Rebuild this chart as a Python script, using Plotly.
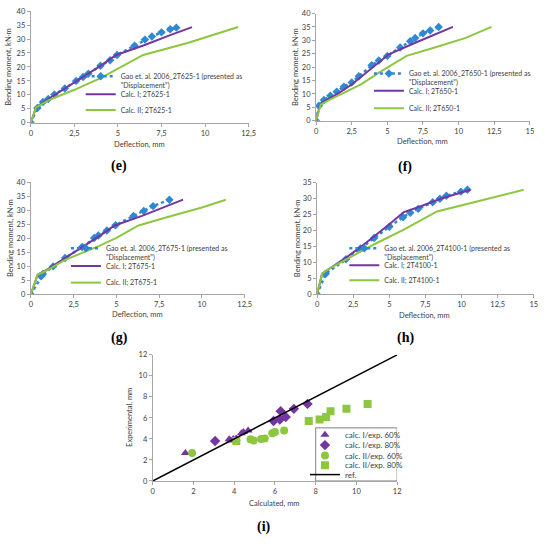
import plotly.graph_objs as go

# (e) 2T625-1
gao_e_x = [0, 0.38, 0.7, 1.0, 1.35, 1.95, 2.6, 3.0, 3.3, 4.0, 4.55, 4.95, 5.95, 6.55, 6.95, 7.5, 8.0, 8.35]
gao_e_y = [0, 5.3, 7.4, 8.5, 10.1, 12.3, 15.0, 16.4, 17.6, 20.4, 22.4, 24.3, 27.6, 29.8, 30.9, 32.4, 33.5, 34.1]
calc1_e_x = [0, 0.3, 1.0, 2.0, 3.0, 4.0, 4.9, 6.5, 8.0, 9.25]
calc1_e_y = [0, 5.5, 8.5, 12.4, 16.4, 20.4, 24.3, 27.8, 31.4, 34.3]
calc2_e_x = [0, 0.3, 1.0, 2.5, 4.0, 5.0, 6.45, 9.0, 11.9]
calc2_e_y = [0, 5.5, 8.0, 11.8, 16.0, 19.5, 24.3, 28.6, 34.3]

# (f) 2T650-1
gao_f_x = [0, 0.2, 0.55, 1.0, 1.45, 1.95, 2.5, 3.0, 3.9, 4.4, 5.0, 5.9, 6.6, 6.95, 7.5, 8.0, 8.6]
gao_f_y = [0, 5.6, 7.7, 9.3, 10.8, 12.7, 14.3, 16.6, 20.7, 22.5, 24.2, 27.3, 29.7, 30.9, 32.6, 33.7, 35.0]
calc1_f_x = [0, 0.28, 0.6, 1.5, 2.5, 3.5, 4.5, 5.1, 7.0, 9.6]
calc1_f_y = [0, 5.9, 7.3, 10.0, 13.5, 17.8, 22.3, 24.8, 29.2, 35.0]
calc2_f_x = [0, 0.32, 1.0, 2.0, 3.15, 4.5, 6.35, 8.5, 10.5, 12.3]
calc2_f_y = [0, 6.0, 8.0, 10.5, 13.6, 18.2, 24.2, 27.6, 30.9, 35.0]

# (g) 2T675-1
gao_g_x = [0, 0.6, 0.7, 1.3, 2.0, 3.0, 3.7, 3.95, 4.45, 4.95, 6.0, 6.6, 7.15, 8.1]
gao_g_y = [0, 6.5, 7.2, 10.0, 13.0, 16.9, 20.1, 21.0, 22.8, 24.7, 28.0, 29.8, 31.5, 33.8]
calc1_g_x = [0, 0.4, 1.0, 2.0, 3.0, 4.0, 4.9, 6.5, 8.9]
calc1_g_y = [0, 7.0, 9.0, 12.8, 16.9, 20.8, 24.6, 28.0, 33.8]
calc2_g_x = [0, 0.4, 1.0, 2.0, 3.0, 4.0, 5.0, 6.3, 8.0, 10.0, 11.4]
calc2_g_y = [0, 7.0, 8.8, 12.3, 14.8, 17.3, 20.2, 24.6, 27.6, 31.0, 33.8]

# (h) 2T4100-1
gao_h_x = [0, 0.6, 2.0, 3.0, 3.95, 5.0, 5.95, 6.45, 7.0, 8.0, 8.5, 8.95, 9.95, 10.4]
gao_h_y = [0, 6.5, 11.0, 14.4, 17.7, 21.2, 24.2, 25.6, 26.8, 28.9, 30.0, 30.9, 32.2, 32.8]
calc1_h_x = [0, 0.35, 1.0, 2.0, 3.0, 4.0, 5.0, 6.0, 7.0, 8.5, 10.6]
calc1_h_y = [0, 6.5, 8.5, 11.5, 14.8, 18.3, 22.0, 25.8, 27.3, 29.9, 32.8]
calc2_h_x = [0, 0.35, 1.0, 2.0, 4.0, 6.0, 8.3, 11.0, 14.3]
calc2_h_y = [0, 6.5, 8.5, 11.0, 15.8, 20.3, 26.0, 29.0, 32.8]

# (i) calculated vs experimental
tri_x = [1.6, 3.75, 3.82, 3.95, 4.1, 4.35, 4.45, 4.68]
tri_y = [2.65, 3.96, 3.85, 4.0, 4.05, 4.55, 4.65, 4.8]
dia_x = [3.06, 5.93, 6.24, 6.53, 6.28, 6.93, 7.6]
dia_y = [3.8, 5.71, 5.85, 6.08, 6.64, 6.86, 7.33]
cir_x = [1.93, 4.8, 4.95, 5.32, 5.5, 5.87, 6.0, 6.45]
cir_y = [2.65, 3.96, 3.85, 4.0, 4.05, 4.55, 4.65, 4.8]
sq_x = [4.1, 7.66, 8.19, 8.51, 8.73, 9.51, 10.55]
sq_y = [3.8, 5.71, 5.85, 6.08, 6.64, 6.86, 7.33]
ref_x = [0, 12]
ref_y = [0, 12]

W, H = 550, 544
BLUE = '#2F88D2'
PURPLE = '#7436A2'
GREEN = '#8DC63F'
TXT = '#404040'
FONT = 'Lato'


def px(x):
    return x / W


def py(y):
    return 1 - y / H


fig = go.Figure()
layout = dict(width=W, height=H, margin=dict(l=0, r=0, t=0, b=0),
              paper_bgcolor='white', plot_bgcolor='white', separators=', ',
              font=dict(family=FONT, color=TXT), showlegend=True)

leg_count = [0]


def new_legend(text_x, center_y, size=7, valign='middle', off=44):
    # one legend per entry so each line can sit where the original has it
    leg_count[0] += 1
    key = 'legend' if leg_count[0] == 1 else 'legend%d' % leg_count[0]
    layout[key] = dict(x=px(text_x - off), y=py(center_y), xanchor='left', yanchor='middle',
                       bgcolor='rgba(0,0,0,0)', valign=valign,
                       font=dict(size=size, color=TXT, family=FONT))
    return key


panels = [
    ('2T625-1', gao_e_x, gao_e_y, calc1_e_x, calc1_e_y, calc2_e_x, calc2_e_y, '',
     124, [78.5, 91.7, 107.7]),
    ('2T650-1', gao_f_x, gao_f_y, calc1_f_x, calc1_f_y, calc2_f_x, calc2_f_y, '2',
     417, [75.8, 88.3, 106]),
    ('2T675-1', gao_g_x, gao_g_y, calc1_g_x, calc1_g_y, calc2_g_x, calc2_g_y, '3',
     109, [253.4, 266.3, 283.3]),
    ('2T4100-1', gao_h_x, gao_h_y, calc1_h_x, calc1_h_y, calc2_h_x, calc2_h_y, '4',
     392, [253.5, 265.7, 281]),
]

for name, gx, gy, c1x, c1y, c2x, c2y, k, lx, ly in panels:
    ax = dict(xaxis='x' + k, yaxis='y' + k)
    fig.add_trace(go.Scatter(x=gx, y=gy, mode='lines+markers',
                             name='Gao et. al. 2006_' + name + ' (presented as<br>"Displacement")',
                             line=dict(color=BLUE, width=2.5, dash='dot'),
                             marker=dict(symbol='diamond', size=6.5, color=BLUE),
                             legend=new_legend(lx, ly[0], valign='top'), **ax))
    fig.add_trace(go.Scatter(x=c1x, y=c1y, mode='lines', name='Calc. I; ' + name,
                             line=dict(color=PURPLE, width=2),
                             legend=new_legend(lx, ly[1]), **ax))
    fig.add_trace(go.Scatter(x=c2x, y=c2y, mode='lines', name='Calc. II; ' + name,
                             line=dict(color=GREEN, width=2),
                             legend=new_legend(lx, ly[2]), **ax))

ax5 = dict(xaxis='x5', yaxis='y5')

# frame of the legend box in (i), in that panel's axis units
box_x = [8.0, 12.0, 12.0, 8.0, 8.0]
box_y = [0, 0, 5.05, 5.05, 0]
fig.add_trace(go.Scatter(x=box_x, y=box_y, mode='lines', showlegend=False, hoverinfo='skip',
                         cliponaxis=False, line=dict(color='#808080', width=1), **ax5))

i_legend_y = [438, 448.5, 459, 469, 478.5]
i_text_x = 352
fig.add_trace(go.Scatter(x=tri_x, y=tri_y, mode='markers', name='calc. I/exp. 60%',
                         marker=dict(symbol='triangle-up', size=8, color=PURPLE),
                         legend=new_legend(i_text_x, i_legend_y[0], 8), **ax5))
fig.add_trace(go.Scatter(x=dia_x, y=dia_y, mode='markers', name='calc. I/exp. 80%',
                         marker=dict(symbol='diamond', size=8, color=PURPLE),
                         legend=new_legend(i_text_x, i_legend_y[1], 8), **ax5))
fig.add_trace(go.Scatter(x=cir_x, y=cir_y, mode='markers', name='calc. II/exp. 60%',
                         marker=dict(symbol='circle', size=8, color=GREEN),
                         legend=new_legend(i_text_x, i_legend_y[2], 8), **ax5))
fig.add_trace(go.Scatter(x=sq_x, y=sq_y, mode='markers', name='calc. II/exp. 80%',
                         marker=dict(symbol='square', size=8, color=GREEN),
                         legend=new_legend(i_text_x, i_legend_y[3], 8), **ax5))
fig.add_trace(go.Scatter(x=ref_x, y=ref_y, mode='lines', name='ref.',
                         line=dict(color='black', width=1.5),
                         legend=new_legend(i_text_x, i_legend_y[4], 8), **ax5))


def axis(domain, rng, dtick, anchor):
    return dict(domain=domain, range=rng, dtick=dtick, anchor=anchor,
                showgrid=False, zeroline=False, showline=True, linecolor='#A6A6A6',
                linewidth=1, ticks='outside', ticklen=3, tickcolor='#A6A6A6',
                tickfont=dict(size=7.5, color=TXT, family=FONT))


# plot areas in pixels (left, right, bottom, top)
boxes = {
    '': (29.3, 250.7, 120.7, 7.3, [0, 12.5], 2.5, [0, 40], 5),
    '2': (319.3, 536.7, 118.7, 9.7, [0, 15], 2.5, [0, 40], 5),
    '3': (29.3, 246.7, 295.3, 181.3, [0, 12.5], 2.5, [0, 40], 5),
    '4': (320.3, 540.7, 295.3, 181.7, [0, 15], 2.5, [0, 35], 5),
    '5': (153.3, 401.7, 485, 356.7, [0, 12], 2, [0, 12], 2),
}
for k, (l, r, b, t, xr, xd, yr, yd) in boxes.items():
    layout['xaxis' + k] = axis([px(l), px(r)], xr, xd, 'y' + k)
    layout['yaxis' + k] = axis([py(b), py(t)], yr, yd, 'x' + k)

ann = []
ytitles = [(7, 64), (299, 64), (8, 238), (300, 238)]
xtitles = [(140, 143), (428, 140), (138, 316), (430, 317)]
for (x, y) in ytitles:
    ann.append(dict(x=px(x), y=py(y), text='Bending moment, kN·m', textangle=-90))
for (x, y) in xtitles:
    ann.append(dict(x=px(x), y=py(y), text='Deflection, mm'))
ann.append(dict(x=px(277), y=py(508), text='Calculated, mm'))
ann.append(dict(x=px(129), y=py(420), text='Experimental, mm', textangle=-90))
for a in ann:
    a.update(xref='paper', yref='paper', showarrow=False, xanchor='center', yanchor='middle',
             font=dict(size=7.5, color=TXT, family=FONT))

labels = [('(e)', 119, 165), ('(f)', 410, 166), ('(g)', 119, 340), ('(h)', 410, 340), ('(i)', 266, 532)]
for t, x, y in labels:
    ann.append(dict(x=px(x), y=py(y), text='<b>' + t + '</b>', xref='paper', yref='paper',
                    showarrow=False, xanchor='center', yanchor='middle',
                    font=dict(size=14, color='black', family='Liberation Serif')))
layout['annotations'] = ann

fig.update_layout(**layout)
fig.write_html("out.html", config={'displayModeBar': False},
               post_script="document.body.style.margin='0px';")
